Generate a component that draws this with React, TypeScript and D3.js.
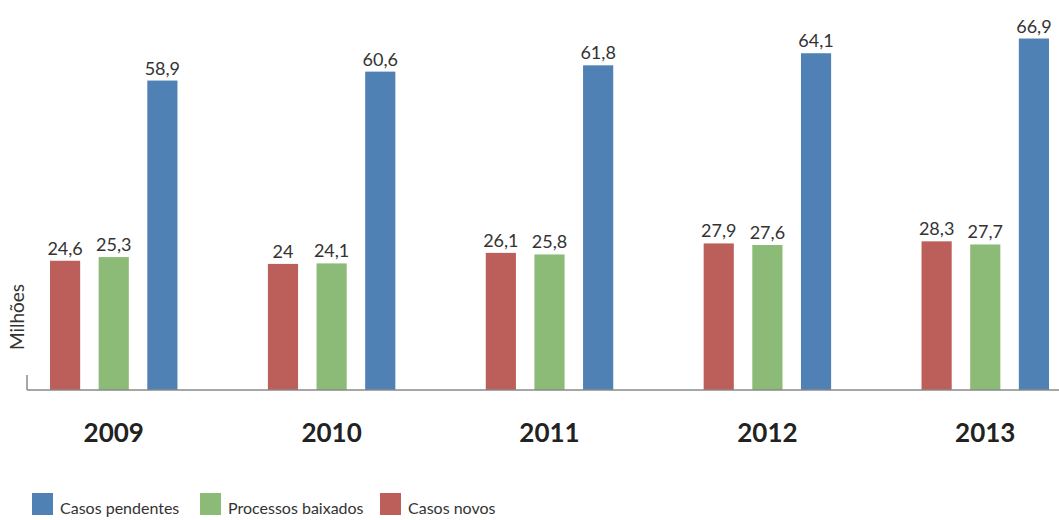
import React from 'react';
import * as d3 from 'd3';

// data (millions)
const years = ['2009', '2010', '2011', '2012', '2013'];
const casosNovos = [24.6, 24, 26.1, 27.9, 28.3];
const processosBaixados = [25.3, 24.1, 25.8, 27.6, 27.7];
const casosPendentes = [58.9, 60.6, 61.8, 64.1, 66.9];

const seriesNames = ['Casos novos', 'Processos baixados', 'Casos pendentes'];
const seriesValues = [casosNovos, processosBaixados, casosPendentes];
const seriesColors = ['#bc5f5a', '#8cbb78', '#5081b5'];
const legendOrder = ['Casos pendentes', 'Processos baixados', 'Casos novos'];

const W = 1059;
const H = 520;
const font = 'Lato, "Open Sans", sans-serif';

export default function App() {
  const baseY = 390;
  const y = d3.scaleLinear().domain([0, 67]).range([baseY, 38]);

  // groups and bars within groups
  const x0 = d3.scaleBand().domain(years).range([50, 1049]).paddingInner(0.415).paddingOuter(0);
  const x1 = d3.scaleBand().domain(seriesNames).range([0, x0.bandwidth()]).paddingInner(0.38).paddingOuter(0);

  const legendX = [32, 200, 380];

  return (
    <svg width={W} height={H} style={{ position: 'absolute', left: 0, top: 0, background: '#fff' }}>
      <g fontFamily={font}>
        {years.map((yr, i) => (
          <g key={yr} transform={`translate(${x0(yr)},0)`}>
            {seriesNames.map((s, j) => {
              const v = seriesValues[j][i];
              const bx = x1(s) as number;
              return (
                <g key={s}>
                  <rect x={bx} y={y(v)} width={x1.bandwidth()} height={baseY - y(v)} fill={seriesColors[j]} />
                  <text x={bx + x1.bandwidth() / 2} y={y(v) - 6} textAnchor="middle" fontSize={18} fill="#333">
                    {String(v).replace('.', ',')}
                  </text>
                </g>
              );
            })}
            <text x={x0.bandwidth() / 2} y={442} textAnchor="middle" fontSize={26} fontWeight="bold" fill="#222">
              {yr}
            </text>
          </g>
        ))}
        <line x1={27} x2={W} y1={baseY} y2={baseY} stroke="#8a8a8a" strokeWidth={1.5} />
        <line x1={27} x2={27} y1={375} y2={baseY} stroke="#8a8a8a" strokeWidth={1.5} />
        <text transform="translate(24,317) rotate(-90)" textAnchor="middle" fontSize={19} fill="#333">
          Milhões
        </text>
        {legendOrder.map((name, k) => {
          const c = seriesColors[seriesNames.indexOf(name)];
          return (
            <g key={name} transform={`translate(${legendX[k]},493)`}>
              <rect x={0} y={0} width={21} height={22} fill={c} />
              <text x={28} y={21} fontSize={16} fill="#333">
                {name}
              </text>
            </g>
          );
        })}
      </g>
    </svg>
  );
}
